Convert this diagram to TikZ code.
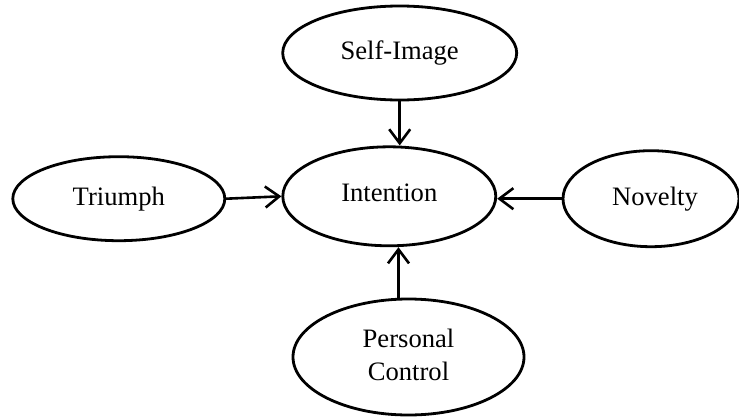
\documentclass[tikz,border=0pt]{standalone}
\usepackage{fontspec}
\setmainfont{Liberation Serif}
\usetikzlibrary{shapes.geometric,arrows.meta,calc}
\begin{document}
\begin{tikzpicture}[x=1pt,y=-1pt,
  oval/.style={ellipse, draw, line width=2.8pt, inner sep=0pt, align=center,
    font=\fontsize{26.6}{33}\selectfont},
  arr/.style={line width=2.6pt, -{Straight Barb[length=14pt,width=21pt,line width=2.6pt]}}]
\useasboundingbox (0,0) rectangle (739,418);
\node[oval, minimum width=234pt, minimum height=94pt] (si) at (399.7,53) {\raisebox{3pt}{Self-Image}};
\node[oval, minimum width=213pt, minimum height=99pt] (int) at (389.3,196.3) {\raisebox{7pt}{Intention}};
\node[oval, minimum width=212pt, minimum height=84pt] (tr) at (118.8,198.7) {\raisebox{2pt}{Triumph}};
\node[oval, minimum width=176pt, minimum height=96pt] (nov) at (651,198.7) {\hspace{8pt}\raisebox{5pt}{Novelty}};
\node[oval, minimum width=231pt, minimum height=116pt] (pc) at (408.5,357) {\raisebox{-9pt}{\begin{tabular}{@{}c@{}}Personal\\Control\end{tabular}}};
\draw[arr] (si.south) -- (si.south |- int.north);
\draw[arr] (tr.east) -- (int.west);
\draw[arr] (nov.west) -- (nov.west -| int.east);
\coordinate (pcs) at ($(pc.north)+(-10,0)$);
\draw[arr] (pcs) -- (pcs |- int.south);
\end{tikzpicture}
\end{document}
